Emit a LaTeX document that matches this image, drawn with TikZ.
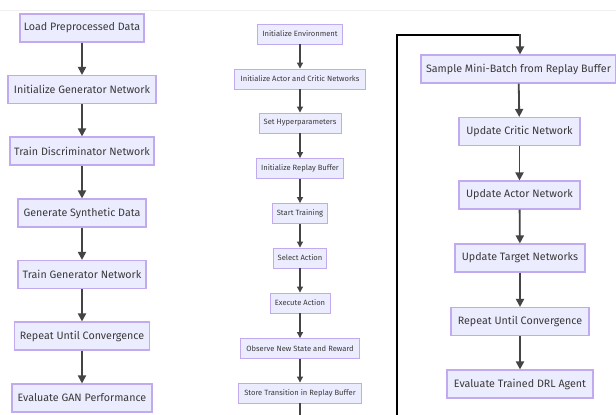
\documentclass[tikz,border=0pt]{standalone}
\usepackage{fontspec}
\setmainfont{Fira Sans}
\usetikzlibrary{arrows.meta}
\definecolor{boxfill}{HTML}{ECECFF}
\definecolor{boxline}{HTML}{C2AAF0}
\definecolor{txt}{HTML}{3A3A3A}
\definecolor{arr}{HTML}{444444}
\tikzset{
  bigbox/.style={draw=boxline, fill=boxfill, line width=1.1pt, text=txt, font=\fontsize{10.7}{12}\selectfont, minimum height=28pt, inner xsep=0pt, inner ysep=0pt, anchor=center},
  smallbox/.style={draw=boxline, fill=boxfill, line width=0.9pt, text=txt, font=\fontsize{7.6}{8}\selectfont, minimum height=20pt, inner xsep=0pt, inner ysep=0pt, anchor=center},
  bigarr/.style={draw=arr, line width=1.8pt, -{Triangle[length=8pt,width=8pt]}},
  smallarr/.style={draw=arr, line width=1.1pt, -{Triangle[length=6pt,width=6pt]}},
}
\begin{document}
\begin{tikzpicture}[x=1pt,y=-1pt]
\useasboundingbox (0,0) rectangle (616,415);
\fill[white] (0,0) rectangle (616,415);
\draw[black!6, line width=0.8pt] (0,10) -- (616,10);
% left column
\node[bigbox, minimum width=124pt] (l1) at (82,28) {Load Preprocessed Data};
\node[bigbox, minimum width=148pt] (l2) at (82,89.5) {Initialize Generator Network};
\node[bigbox, minimum width=144pt] (l3) at (82,151) {Train Discriminator Network};
\node[bigbox, minimum width=128pt] (l4) at (82,213) {Generate Synthetic Data};
\node[bigbox, minimum width=128pt] (l5) at (82,274.5) {Train Generator Network};
\node[bigbox, minimum width=135pt] (l6) at (82,336) {Repeat Until Convergence};
\node[bigbox, minimum width=140pt] (l7) at (82,398) {Evaluate GAN Performance};
\foreach \a/\b in {l1/l2,l2/l3,l3/l4,l4/l5,l5/l6,l6/l7}{\draw[bigarr] (\a) -- (\b);}
% middle column
\node[smallbox, minimum width=85pt] (m1) at (300,34) {Initialize Environment};
\node[smallbox, minimum width=131pt] (m2) at (300,79) {Initialize Actor and Critic Networks};
\node[smallbox, minimum width=82pt] (m3) at (300,123) {Set Hyperparameters};
\node[smallbox, minimum width=87pt] (m4) at (300,168.5) {Initialize Replay Buffer};
\node[smallbox, minimum width=55pt] (m5) at (300,213.5) {Start Training};
\node[smallbox, minimum width=53pt] (m6) at (300,258) {Select Action};
\node[smallbox, minimum width=60pt] (m7) at (300,303) {Execute Action};
\node[smallbox, minimum width=119pt] (m8) at (300,348.5) {Observe New State and Reward};
\node[smallbox, minimum width=123pt] (m9) at (300,393) {Store Transition in Replay Buffer};
\coordinate (mend) at (300,416);
\foreach \a/\b in {m1/m2,m2/m3,m3/m4,m4/m5,m5/m6,m6/m7,m7/m8,m8/m9}{\draw[smallarr] (\a) -- (\b);}
\draw[draw=arr, line width=1.1pt] (m9) -- (mend);
% right column
\node[bigbox, minimum width=195pt] (r1) at (518.5,69) {Sample Mini-Batch from Replay Buffer};
\node[bigbox, minimum width=121pt] (r2) at (519.5,131.5) {Update Critic Network};
\node[bigbox, minimum width=121pt] (r3) at (519.5,195) {Update Actor Network};
\node[bigbox, minimum width=130pt] (r4) at (520,258) {Update Target Networks};
\node[bigbox, minimum width=138pt] (r5) at (520,321.5) {Repeat Until Convergence};
\node[bigbox, minimum width=146pt] (r6) at (520,384) {Evaluate Trained DRL Agent};
\foreach \a/\b in {r1/r2,r2/r3,r3/r4,r4/r5,r5/r6}{\draw[bigarr] (\a) -- (\b);}
% loop
\coordinate (lb) at (397,416);
\coordinate (lt) at (397,35);
\coordinate (rt) at (520,35);
\draw[black, line width=1.8pt] (lb) -- (lt) -- (rt);
\draw[bigarr, shorten <=-0.9pt] (rt) -- (r1.north -| rt);
\end{tikzpicture}
\end{document}
